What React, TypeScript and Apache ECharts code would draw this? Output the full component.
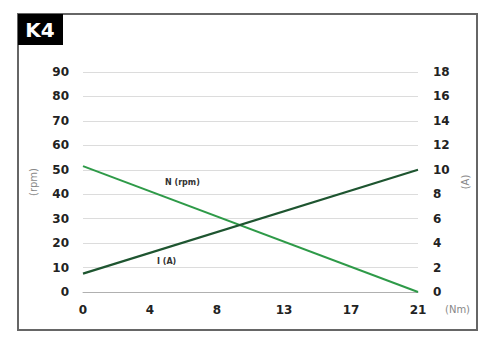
import React, { useEffect, useRef } from "react";
import * as echarts from "echarts";

const torque = [0, 21];
const speedRpm = [51.5, 0];
const currentA = [1.5, 10];
const xTickStep = 4.2;

export default function App() {
  const ref = useRef<HTMLDivElement>(null);
  useEffect(() => {
    if (!ref.current) return;
    const chart = echarts.init(ref.current, null, { renderer: "svg" });
    const font = "DejaVu Sans, Verdana, sans-serif";
    const tickLabel = { color: "#222", fontFamily: font, fontWeight: "bold" as const, fontSize: 12 };
    chart.setOption({
      animation: false,
      backgroundColor: "#fff",
      grid: { left: 83, right: 76, top: 72, bottom: 49, containLabel: false },
      xAxis: {
        type: "value",
        min: 0,
        max: 21,
        interval: xTickStep,
        axisLine: { show: true, lineStyle: { color: "#b0b0b0", width: 1 } },
        axisTick: { show: false },
        splitLine: { show: false },
        axisLabel: { ...tickLabel, margin: 12, formatter: (v: number) => String(Math.round(v)) },
      },
      yAxis: [
        {
          type: "value",
          min: 0,
          max: 90,
          interval: 10,
          name: "(rpm)",
          nameLocation: "middle",
          nameRotate: 90,
          nameGap: 45,
          nameTextStyle: { color: "#888", fontFamily: font, fontSize: 10 },
          axisLine: { show: false },
          axisTick: { show: false },
          splitLine: { lineStyle: { color: "#dcdcdc", width: 1 } },
          axisLabel: { ...tickLabel, margin: 14 },
        },
        {
          type: "value",
          min: 0,
          max: 18,
          interval: 2,
          name: "(A)",
          nameLocation: "middle",
          nameRotate: 90,
          nameGap: 41,
          nameTextStyle: { color: "#888", fontFamily: font, fontSize: 10 },
          axisLine: { show: false },
          axisTick: { show: false },
          splitLine: { show: false },
          axisLabel: { ...tickLabel, margin: 15 },
        },
      ],
      series: [
        {
          name: "N (rpm)",
          type: "line",
          yAxisIndex: 0,
          data: torque.map((t, i) => [t, speedRpm[i]]),
          symbol: "none",
          lineStyle: { color: "#2e9a48", width: 2 },
          z: 3,
        },
        {
          name: "I (A)",
          type: "line",
          yAxisIndex: 1,
          data: torque.map((t, i) => [t, currentA[i]]),
          symbol: "none",
          lineStyle: { color: "#1e5530", width: 2.2 },
          z: 4,
        },
      ],
      graphic: [
        {
          type: "rect",
          shape: { x: 18, y: 14, width: 459, height: 316 },
          style: { fill: "none", stroke: "#666", lineWidth: 2 },
          z: -1,
        },
        {
          type: "rect",
          shape: { x: 18, y: 14, width: 45, height: 31 },
          style: { fill: "#000" },
        },
        {
          type: "text",
          x: 40,
          y: 30,
          style: {
            text: "K4",
            fill: "#fff",
            font: `bold 20px ${font}`,
            align: "center",
            verticalAlign: "middle",
          },
        },
        {
          type: "text",
          x: 165,
          y: 182,
          style: { text: "N (rpm)", fill: "#333", font: `bold 8px ${font}`, verticalAlign: "middle" },
        },
        {
          type: "text",
          x: 157,
          y: 261,
          style: { text: "I (A)", fill: "#333", font: `bold 8px ${font}`, verticalAlign: "middle" },
        },
        {
          type: "text",
          x: 445,
          y: 309,
          style: { text: "(Nm)", fill: "#888", font: `10px ${font}`, verticalAlign: "middle" },
        },
      ],
    });
    return () => chart.dispose();
  }, []);
  return (
    <div
      ref={ref}
      style={{ position: "fixed", left: 0, top: 0, width: 494, height: 341, background: "#fff" }}
    />
  );
}
